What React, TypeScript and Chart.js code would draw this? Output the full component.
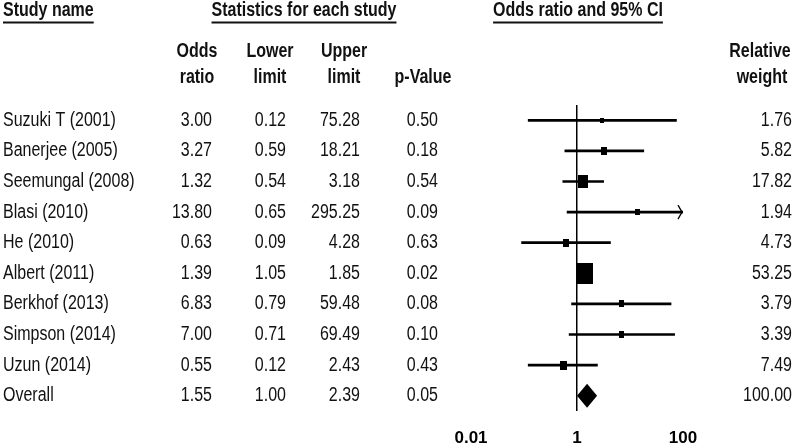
import { useEffect, useRef } from 'react';
import { Chart, registerables } from 'chart.js';

Chart.register(...registerables);

const studyNames = [
  'Suzuki T (2001)',
  'Banerjee (2005)',
  'Seemungal (2008)',
  'Blasi (2010)',
  'He (2010)',
  'Albert (2011)',
  'Berkhof (2013)',
  'Simpson (2014)',
  'Uzun (2014)',
  'Overall',
];
const oddsRatio = [3.0, 3.27, 1.32, 13.8, 0.63, 1.39, 6.83, 7.0, 0.55, 1.55];
const lowerLimit = [0.12, 0.59, 0.54, 0.65, 0.09, 1.05, 0.79, 0.71, 0.12, 1.0];
const upperLimit = [75.28, 18.21, 3.18, 295.25, 4.28, 1.85, 59.48, 69.49, 2.43, 2.39];
const pValue = [0.5, 0.18, 0.54, 0.09, 0.63, 0.02, 0.08, 0.1, 0.43, 0.05];
const relativeWeight = [1.76, 5.82, 17.82, 1.94, 4.73, 53.25, 3.79, 3.39, 7.49, 100.0];
const overallIndex = 9;

const xTickValues = [0.01, 1, 100];
const xTickLabels = ['0.01', '1', '100'];

const FONT = '"Liberation Sans", Arial, "Helvetica", sans-serif';
const SX = 0.8;
const INK = '#111';

function drawText(
  ctx: CanvasRenderingContext2D,
  s: string,
  x: number,
  y: number,
  align: CanvasTextAlign,
  bold: boolean,
  underlineY?: number
) {
  ctx.save();
  ctx.font = `${bold ? 'bold ' : ''}20px ${FONT}`;
  ctx.textBaseline = 'middle';
  ctx.textAlign = align;
  ctx.fillStyle = INK;
  ctx.translate(x, y);
  ctx.scale(SX, 1);
  ctx.fillText(s, 0, 0);
  ctx.restore();
  if (underlineY !== undefined) {
    ctx.save();
    ctx.font = `${bold ? 'bold ' : ''}20px ${FONT}`;
    const w = ctx.measureText(s).width * SX;
    let x0 = x;
    if (align === 'center') x0 = x - w / 2;
    else if (align === 'right') x0 = x - w;
    ctx.fillStyle = INK;
    ctx.fillRect(x0, underlineY, w, 2);
    ctx.restore();
  }
}

function boxImage(weight: number) {
  const h = Math.round(2.6 * Math.sqrt(weight) + 2);
  const w = Math.max(4, Math.round(h * 0.78));
  const c = document.createElement('canvas');
  c.width = w;
  c.height = h;
  const g = c.getContext('2d')!;
  g.fillStyle = '#000';
  g.fillRect(0, 0, w, h);
  return c;
}

const tablePlugin = {
  id: 'forestTable',
  afterDraw(chart: any) {
    const ctx: CanvasRenderingContext2D = chart.ctx;
    const xs = chart.scales.x;
    const ys = chart.scales.y;

    // Headers
    drawText(ctx, 'Study name', 3, 10, 'left', true, 21.5);
    drawText(ctx, 'Statistics for each study', 304, 10, 'center', true, 21.5);
    drawText(ctx, 'Odds ratio and 95% CI', 578, 10, 'center', true, 21.5);

    drawText(ctx, 'Odds', 197, 51, 'center', true);
    drawText(ctx, 'ratio', 197, 77, 'center', true);
    drawText(ctx, 'Lower', 270, 51, 'center', true);
    drawText(ctx, 'limit', 270, 77, 'center', true);
    drawText(ctx, 'Upper', 344, 51, 'center', true);
    drawText(ctx, 'limit', 344, 77, 'center', true);
    drawText(ctx, 'p-Value', 423, 77, 'center', true);
    drawText(ctx, 'Relative', 760, 51, 'center', true);
    drawText(ctx, 'weight', 762, 77, 'center', true);

    for (let i = 0; i < studyNames.length; i++) {
      const yc = ys.getPixelForValue(i);
      drawText(ctx, studyNames[i], 3, yc, 'left', false);
      drawText(ctx, oddsRatio[i].toFixed(2), 212, yc, 'right', false);
      drawText(ctx, lowerLimit[i].toFixed(2), 286, yc, 'right', false);
      drawText(ctx, upperLimit[i].toFixed(2), 360, yc, 'right', false);
      drawText(ctx, pValue[i].toFixed(2), 438, yc, 'right', false);
      drawText(ctx, relativeWeight[i].toFixed(2), 792, yc, 'right', false);
    }

    // Arrow heads for clipped CIs
    ctx.save();
    ctx.strokeStyle = '#000';
    ctx.lineWidth = 1.3;
    for (let i = 0; i < overallIndex; i++) {
      if (upperLimit[i] > xs.max) {
        const yc = ys.getPixelForValue(i);
        const xr = xs.right - 1;
        ctx.beginPath();
        ctx.moveTo(xr - 4, yc - 7);
        ctx.lineTo(xr, yc);
        ctx.lineTo(xr - 4, yc + 7);
        ctx.stroke();
      }
    }
    ctx.restore();

    // Overall diamond
    const yo = ys.getPixelForValue(overallIndex);
    const xl = xs.getPixelForValue(lowerLimit[overallIndex]);
    const xm = xs.getPixelForValue(oddsRatio[overallIndex]);
    const xh = xs.getPixelForValue(upperLimit[overallIndex]);
    ctx.save();
    ctx.fillStyle = '#000';
    ctx.beginPath();
    ctx.moveTo(xl, yo);
    ctx.lineTo(xm, yo - 12);
    ctx.lineTo(xh, yo);
    ctx.lineTo(xm, yo + 12);
    ctx.closePath();
    ctx.fill();
    ctx.restore();
  },
};

export default function App() {
  const ref = useRef<HTMLCanvasElement>(null);

  useEffect(() => {
    const canvas = ref.current;
    if (!canvas) return;
    const studyIdx = studyNames.map((_, i) => i).filter((i) => i !== overallIndex);

    const chart = new Chart(canvas, {
      type: 'bar',
      data: {
        labels: studyNames,
        datasets: [
          {
            type: 'bar',
            indexAxis: 'y',
            data: studyNames.map((_, i) =>
              i === overallIndex ? null : [lowerLimit[i], upperLimit[i]]
            ) as any,
            backgroundColor: '#000',
            borderWidth: 0,
            barThickness: 2,
            order: 2,
          } as any,
          {
            type: 'scatter',
            data: studyIdx.map((i) => ({ x: oddsRatio[i], y: studyNames[i] })) as any,
            pointStyle: studyIdx.map((i) => boxImage(relativeWeight[i])) as any,
            pointRadius: 5,
            showLine: false,
            order: 1,
          } as any,
        ],
      },
      options: {
        responsive: false,
        animation: false,
        events: [],
        layout: { padding: { left: 471, right: 110, top: 105, bottom: 0 } },
        plugins: { legend: { display: false }, tooltip: { enabled: false } },
        scales: {
          x: {
            type: 'logarithmic',
            min: 0.01,
            max: 100,
            offset: false,
            afterBuildTicks: (s: any) => {
              s.ticks = xTickValues.map((v) => ({ value: v }));
            },
            afterFit: (s: any) => {
              s.height = 32;
            },
            ticks: {
              callback: (_v: any, i: number) => xTickLabels[i],
              font: { family: FONT, size: 17, weight: 'bold' },
              color: '#000',
              padding: 17,
              autoSkip: false,
              maxRotation: 0,
            },
            grid: {
              offset: false,
              color: (c: any) => (c.tick && c.tick.value === 1 ? '#000' : 'rgba(0,0,0,0)'),
              lineWidth: 1.5,
              drawTicks: false,
            },
            border: { display: false },
          } as any,
          y: {
            type: 'category',
            labels: studyNames,
            offset: true,
            display: false,
            grid: { display: false },
          },
        },
      },
      plugins: [tablePlugin],
    });
    return () => chart.destroy();
  }, []);

  return (
    <div style={{ position: 'absolute', left: 0, top: 0, width: 793, height: 443, background: '#fff' }}>
      <canvas ref={ref} width={793} height={443} style={{ width: 793, height: 443, display: 'block' }} />
    </div>
  );
}
